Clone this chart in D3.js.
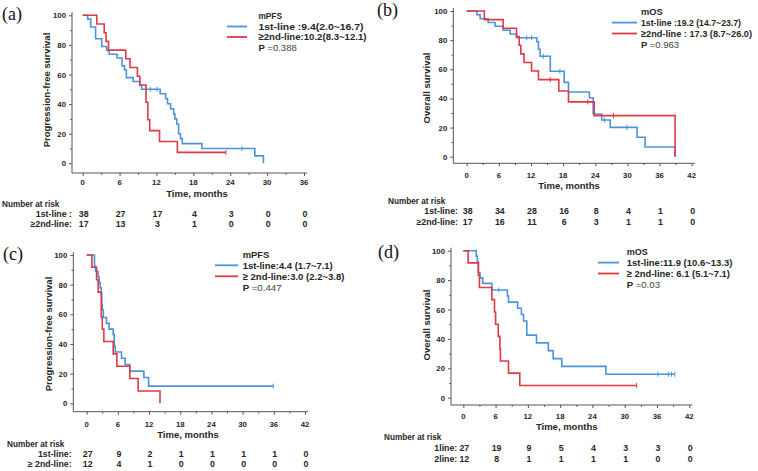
<!DOCTYPE html>
<html>
<head>
<meta charset="utf-8">
<script src="https://cdn.jsdelivr.net/npm/d3@7"></script>
<style>
html,body{margin:0;padding:0;background:#fff;}
svg{display:block;font-family:"Liberation Sans",Arial,sans-serif;}
</style>
</head>
<body>
<svg id="chart" width="758" height="471"></svg>
<script>
// ---------------- DATA ----------------
const panelLabels = ["(a)", "(b)", "(c)", "(d)"];
const legendTitles = ["mPFS", "mOS", "mPFS", "mOS"];
const yAxisTitles = ["Progression-free survival", "Overall survival", "Progression-free survival", "Overall survival"];
const xAxisTitle = "Time, months";
const riskTitle = "Number at risk";

const yTicks = [0, 20, 40, 60, 80, 100];
const xTicksA = [0, 6, 12, 18, 24, 30, 36];
const xTicksB = [0, 6, 12, 18, 24, 30, 36, 42];
const xTicksC = [0, 6, 12, 18, 24, 30, 36, 42];
const xTicksD = [0, 6, 12, 18, 24, 30, 36, 42];

const legendA = ["1st-line :9.4(2.0~16.7)", "\u22652nd-line:10.2(8.3~12.1)", "P =0.388"];
const legendB = ["1st-line :19.2 (14.7~23.7)", "\u22652nd-line : 17.3 (8.7~26.0)", "P =0.963"];
const legendC = ["1st-line:4.4 (1.7~7.1)", "\u2265 2nd-line:3.0 (2.2~3.8)", "P =0.447"];
const legendD = ["1st-line:11.9 (10.6~13.3)", "\u2265 2nd-line: 6.1 (5.1~7.1)", "P =0.03"];

const riskLabelsA = ["1st-line :", "\u22652nd-line:"];
const riskLabelsB = ["1st-line:", "\u22652nd-line:"];
const riskLabelsC = ["1st-line:", "\u2265 2nd-line:"];
const riskLabelsD = ["1line:", "2line:"];

const riskA1 = [38, 27, 17, 4, 3, 0, 0];
const riskA2 = [17, 13, 3, 1, 0, 0, 0];
const riskB1 = [38, 34, 28, 16, 8, 4, 1, 0];
const riskB2 = [17, 16, 11, 6, 3, 1, 1, 0];
const riskC1 = [27, 9, 2, 1, 1, 1, 1, 0];
const riskC2 = [12, 4, 1, 0, 0, 0, 0, 0];
const riskD1 = [27, 19, 9, 5, 4, 3, 3, 0];
const riskD2 = [12, 8, 1, 1, 1, 1, 0, 0];

// Kaplan-Meier steps: [time (months), survival (%)]
const curveA1 = [[0,100],[0.8,97.4],[1.3,92.1],[2.1,84.2],[3.1,78.9],[3.9,76.3],[4.3,73.7],[5.6,71.1],[6.4,65.8],[6.8,63.2],[7.1,57.9],[8.2,55.3],[9.3,52.6],[9.6,50.0],[12.6,47.0],[13.5,43.6],[13.8,40.2],[14.3,36.8],[14.8,33.4],[15.0,30.0],[15.3,26.6],[15.6,20.0],[15.9,16.7],[16.2,13.3],[19.4,10.0],[28.0,5.0],[29.4,0]];
const curveA2 = [[0,100],[2.3,94.1],[3.5,88.2],[3.8,82.4],[4.2,76.5],[7.0,70.6],[7.7,64.7],[8.9,58.8],[9.3,52.9],[10.3,41.2],[10.6,29.4],[10.9,22.1],[12.5,14.7],[15.4,7.4],[23.3,7.4]];
const censorA1 = [[11.0,50.0],[12.1,50.0],[25.9,10.0]];
const censorA2 = [[23.3,7.4]];

const curveB1 = [[0,100],[1.9,97.4],[2.5,94.7],[4.0,92.1],[5.3,89.5],[6.8,86.8],[8.1,84.2],[9.3,81.6],[13.1,78.9],[13.4,73.7],[13.7,68.9],[15.6,58.6],[18.2,51.0],[19.0,44.4],[22.9,40.5],[23.6,29.3],[25.2,25.2],[26.8,20.1],[31.8,13.4],[33.3,6.7],[38.9,0]];
const curveB2 = [[0,100],[3.3,94.1],[6.8,88.2],[9.3,82.4],[9.8,76.5],[10.1,70.6],[10.7,64.7],[12.1,58.8],[13.4,52.9],[17.2,45.1],[19.0,37.6],[23.8,28.2],[38.9,0]];
const censorB1 = [[11.2,81.6],[12.1,81.6],[14.3,68.9],[17.4,58.6],[25.7,25.2],[29.9,20.1]];
const censorB2 = [[15.6,52.9],[22.6,37.6],[27.4,28.2]];

const curveC1 = [[0,100],[1.5,92.6],[1.7,88.9],[2.2,85.2],[2.4,81.5],[2.6,77.8],[2.8,74.1],[2.9,66.7],[3.0,62.9],[3.2,57.9],[3.8,53.9],[4.3,50.0],[5.1,46.2],[5.3,38.5],[5.5,34.6],[6.7,30.4],[7.4,26.1],[8.3,21.7],[11.0,17.4],[11.9,11.6],[35.9,11.6]];
const curveC2 = [[0,100],[1.0,91.7],[1.9,83.3],[2.2,75.0],[2.8,58.3],[3.0,50.0],[3.3,41.7],[5.1,33.3],[5.8,25.0],[8.3,16.7],[9.9,8.3],[14.1,0]];
const censorC1 = [[35.9,11.6]];
const censorC2 = [];

const curveD1 = [[0,100],[2.4,96.3],[2.6,92.6],[2.8,85.2],[3.1,81.5],[3.6,77.8],[5.3,73.3],[8.2,69.2],[8.4,65.0],[10.1,60.9],[10.8,56.6],[11.2,52.2],[11.8,42.6],[13.6,37.3],[15.8,32.0],[16.7,26.6],[18.3,21.3],[26.5,16.0],[39.3,16.0]];
const curveD2 = [[0,100],[0.9,91.7],[2.8,83.3],[3.0,75.0],[5.3,66.7],[5.8,58.3],[6.0,50.0],[6.5,41.7],[6.8,33.3],[6.9,25.0],[8.4,16.7],[10.5,8.3],[32.2,8.3]];
const censorD1 = [[6.6,73.3],[36.2,16.0],[38.1,16.0],[38.7,16.0],[39.3,16.0]];
const censorD2 = [[32.2,8.3]];

// ---------------- STYLE / LAYOUT ----------------
const BLUE = "#4b94dc";
const RED = "#de3a46";
const TEXT = "#262626";

const panels = [
  {label: panelLabels[0], legTitle: legendTitles[0], yTitle: yAxisTitles[0], ticks: xTicksA, legend: legendA,
   riskLabels: riskLabelsA, risk: [riskA1, riskA2], curves: [curveA1, curveA2], censors: [censorA1, censorA2],
   g: {x0: 82.7, x1: 304, y100: 15.3, y0: 163.3, axX: 72, axY: 173, tickY: 182.5, tX: 197, tY: 193.5,
       ylX: 47, ylY: 90, lbX: 2, lbY: 20, legX: 258.5, legLX: 227, legLW: 20, legY: 16, legDy: 10.5,
       legW: [23.4, 105, 108, 38.3],
       rkX: 2, rkY: 204, rkDy: 10.2, rkR: 72}},
  {label: panelLabels[1], legTitle: legendTitles[1], yTitle: yAxisTitles[1], ticks: xTicksB, legend: legendB,
   riskLabels: riskLabelsB, risk: [riskB1, riskB2], curves: [curveB1, curveB2], censors: [censorB1, censorB2],
   g: {x0: 466.7, x1: 691.7, y100: 11, y0: 156.7, axX: 453.3, axY: 163.3, tickY: 175, tX: 569, tY: 186,
       ylX: 426.7, ylY: 88, lbX: 377, lbY: 16, legX: 641, legLX: 612, legLW: 25, legY: 11.7, legDy: 10.9,
       legW: [21.7, 100, 111, 38],
       rkX: 388, rkY: 200.7, rkDy: 10.6, rkR: 458}},
  {label: panelLabels[2], legTitle: legendTitles[2], yTitle: yAxisTitles[2], ticks: xTicksC, legend: legendC,
   riskLabels: riskLabelsC, risk: [riskC1, riskC2], curves: [curveC1, curveC2], censors: [censorC1, censorC2],
   g: {x0: 86.7, x1: 305, y100: 255, y0: 403.3, axX: 73.3, axY: 411.7, tickY: 424.5, tX: 188, tY: 434.5,
       ylX: 49, ylY: 334, lbX: 3, lbY: 260, legX: 242.7, legLX: 215, legLW: 23, legY: 254.3, legDy: 11,
       legW: [26.7, 90, 101.7, 39],
       rkX: 7, rkY: 444.3, rkDy: 9.6, rkR: 71.7}},
  {label: panelLabels[3], legTitle: legendTitles[3], yTitle: yAxisTitles[3], ticks: xTicksD, legend: legendD,
   riskLabels: riskLabelsD, risk: [riskD1, riskD2], curves: [curveD1, curveD2], censors: [censorD1, censorD2],
   g: {x0: 463.3, x1: 689.3, y100: 250.7, y0: 397.7, axX: 451, axY: 405, tickY: 416.5, tX: 566.7, tY: 427,
       ylX: 426.7, ylY: 325, lbX: 378, lbY: 258, legX: 626.7, legLX: 598, legLW: 21, legY: 251.7, legDy: 10.9,
       legW: [21, 105.7, 103.3, 33.3],
       rkX: 384, rkY: 437.5, rkDy: 10.6, rkR: 457.3}}
];

const svg = d3.select("#chart");

panels.forEach(p => {
  const g = p.g;
  const xMax = p.ticks[p.ticks.length - 1];
  const x = d3.scaleLinear().domain([0, xMax]).range([g.x0, g.x1]);
  const y = d3.scaleLinear().domain([0, 100]).range([g.y0, g.y100]);
  const root = svg.append("g");

  // Axes lines
  root.append("line").attr("x1", g.axX).attr("x2", g.axX).attr("y1", y(100) - 3).attr("y2", g.axY)
    .attr("stroke", "#555").attr("stroke-width", 1);
  root.append("line").attr("x1", g.axX).attr("x2", x(xMax) + 3).attr("y1", g.axY).attr("y2", g.axY)
    .attr("stroke", "#555").attr("stroke-width", 1);

  // Y ticks (major + minor)
  const yMinor = yTicks.slice(0, -1).map((t, i) => (t + yTicks[i + 1]) / 2);
  const yAx = root.append("g").attr("transform", `translate(${g.axX},0)`)
    .call(d3.axisLeft(y).tickValues(yTicks).tickSize(3).tickPadding(3).tickFormat(d3.format("d")));
  yAx.select(".domain").remove();
  yAx.selectAll("line").attr("stroke", "#555");
  yAx.selectAll("text").attr("font-size", 7.8).attr("font-weight", "bold").attr("fill", TEXT)
    .attr("font-family", "Liberation Sans, Arial, sans-serif");
  const yAxm = root.append("g").attr("transform", `translate(${g.axX},0)`)
    .call(d3.axisLeft(y).tickValues(yMinor).tickSize(1.8).tickFormat(""));
  yAxm.select(".domain").remove();
  yAxm.selectAll("line").attr("stroke", "#555");

  // X ticks (major + minor)
  const xMinor = p.ticks.slice(0, -1).map((t, i) => (t + p.ticks[i + 1]) / 2);
  const xAx = root.append("g").attr("transform", `translate(0,${g.axY})`)
    .call(d3.axisBottom(x).tickValues(p.ticks).tickSize(3).tickFormat(""));
  xAx.select(".domain").remove();
  xAx.selectAll("line").attr("stroke", "#555");
  const xAxm = root.append("g").attr("transform", `translate(0,${g.axY})`)
    .call(d3.axisBottom(x).tickValues(xMinor).tickSize(1.8).tickFormat(""));
  xAxm.select(".domain").remove();
  xAxm.selectAll("line").attr("stroke", "#555");
  root.append("g").selectAll("text").data(p.ticks).join("text")
    .attr("x", d => x(d)).attr("y", g.tickY).attr("dy", "0.35em")
    .attr("text-anchor", "middle").attr("font-size", 7.8).attr("font-weight", "bold").attr("fill", TEXT)
    .text(d => d);

  // Axis titles
  root.append("text").attr("x", g.tX).attr("y", g.tY).attr("dy", "0.35em").attr("text-anchor", "middle")
    .attr("font-size", 9.5).attr("font-weight", "bold").attr("fill", TEXT).text(xAxisTitle);
  root.append("text").attr("transform", `translate(${g.ylX},${g.ylY}) rotate(-90)`).attr("dy", "0.35em")
    .attr("text-anchor", "middle").attr("font-size", 9.5).attr("font-weight", "bold").attr("fill", TEXT)
    .text(p.yTitle);

  // Panel label
  root.append("text").attr("x", g.lbX).attr("y", g.lbY).attr("font-family", "Liberation Serif, Times New Roman, serif")
    .attr("font-size", 18).attr("fill", "#111").text(p.label);

  // Curves
  const line = d3.line().x(d => x(d[0])).y(d => y(d[1])).curve(d3.curveStepAfter);
  const colors = [BLUE, RED];
  p.curves.forEach((c, i) => {
    root.append("path").attr("d", line(c)).attr("fill", "none").attr("stroke", colors[i])
      .attr("stroke-width", 1.6).attr("stroke-linejoin", "miter");
  });
  p.censors.forEach((c, i) => {
    root.append("g").selectAll("line").data(c).join("line")
      .attr("x1", d => x(d[0])).attr("x2", d => x(d[0]))
      .attr("y1", d => y(d[1]) - 2.5).attr("y2", d => y(d[1]) + 2.5)
      .attr("stroke", colors[i]).attr("stroke-width", 1);
  });

  // Legend
  root.append("text").attr("x", g.legX).attr("y", g.legY).attr("dy", "0.35em").attr("font-size", 9.5)
    .attr("font-weight", "bold").attr("fill", TEXT)
    .attr("textLength", g.legW[0]).attr("lengthAdjust", "spacingAndGlyphs").text(p.legTitle);
  p.legend.forEach((t, i) => {
    const yy = g.legY + g.legDy * (i + 1);
    if (i < 2) {
      root.append("line").attr("x1", g.legLX).attr("x2", g.legLX + g.legLW).attr("y1", yy).attr("y2", yy)
        .attr("stroke", colors[i]).attr("stroke-width", 1.8);
      root.append("text").attr("x", g.legX).attr("y", yy).attr("dy", "0.35em").attr("font-size", 9.8)
        .attr("font-weight", "bold").attr("fill", TEXT)
        .attr("textLength", g.legW[i + 1]).attr("lengthAdjust", "spacingAndGlyphs").text(t);
    } else {
      const parts = t.split("=");
      const tx = root.append("text").attr("x", g.legX).attr("y", yy).attr("dy", "0.35em").attr("font-size", 9.8)
        .attr("fill", TEXT).attr("textLength", g.legW[i + 1]).attr("lengthAdjust", "spacingAndGlyphs");
      tx.append("tspan").attr("font-weight", "bold").text(parts[0]);
      tx.append("tspan").attr("fill", "#444").text("=" + parts[1]);
    }
  });

  // Risk table
  root.append("text").attr("x", g.rkX).attr("y", g.rkY).attr("dy", "0.35em").attr("font-size", 8.2)
    .attr("font-weight", "bold").attr("fill", TEXT).text(riskTitle);
  p.risk.forEach((row, i) => {
    const yy = g.rkY + g.rkDy * (i + 1);
    root.append("text").attr("x", g.rkR).attr("y", yy).attr("dy", "0.35em").attr("text-anchor", "end")
      .attr("font-size", 8.8).attr("font-weight", "bold").attr("fill", TEXT).text(p.riskLabels[i]);
    root.append("g").selectAll("text").data(row).join("text")
      .attr("x", (d, j) => x(p.ticks[j]) + 1).attr("y", yy).attr("dy", "0.35em").attr("text-anchor", "middle")
      .attr("font-size", 8.8).attr("font-weight", "bold").attr("fill", TEXT).text(d => d);
  });
});
</script>
</body>
</html>
